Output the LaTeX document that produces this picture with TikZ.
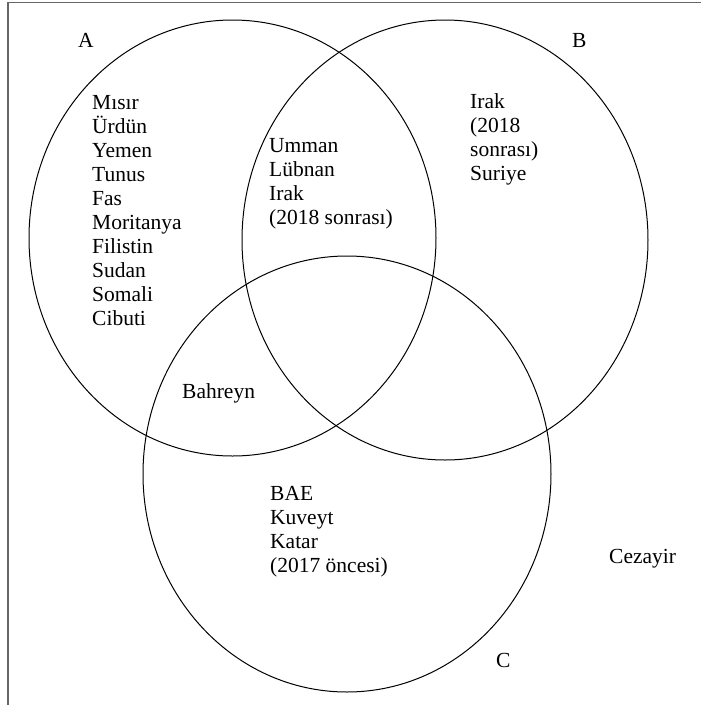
\documentclass[tikz,border=0pt]{standalone}
\usepackage{fontspec}
\setmainfont{Liberation Serif}
\begin{document}
\begin{tikzpicture}[x=1pt,y=-1pt,
  setring/.style={draw=black,line width=1pt},
  frameline/.style={draw=black!60,line width=1.2pt},
  lbl/.style={anchor=base west,inner sep=0pt,align=left,font=\fontsize{21.5}{24}\selectfont}]
\useasboundingbox (0,0) rectangle (701,705);
\draw[frameline] (701,2.5) -- (8,2.5) -- (8,705);
\coordinate (ca) at (232.5,238);
\coordinate (cb) at (445,240);
\coordinate (cc) at (347,474);
\draw[setring] (ca) ellipse[x radius=203.5,y radius=218];
\draw[setring] (cb) ellipse[x radius=203,y radius=220];
\draw[setring] (cc) ellipse[x radius=204,y radius=218];
\node[lbl] (la) at (78,47) {A};
\node[lbl] (lb) at (572,47) {B};
\node[lbl] (lc) at (496,667) {C};
\node[lbl] (ta) at (92,325) {Mısır\\Ürdün\\Yemen\\Tunus\\Fas\\Moritanya\\Filistin\\Sudan\\Somali\\Cibuti};
\node[lbl] (tab) at (269,224) {Umman\\Lübnan\\Irak\\(2018 sonrası)};
\node[lbl] (tb) at (470,180) {Irak\\(2018\\sonrası)\\Suriye};
\node[lbl] (tac) at (182,398) {Bahreyn};
\node[lbl] (tc) at (270,572) {BAE\\Kuveyt\\Katar\\(2017 öncesi)};
\node[lbl] (tout) at (609,563) {Cezayir};
\end{tikzpicture}
\end{document}
